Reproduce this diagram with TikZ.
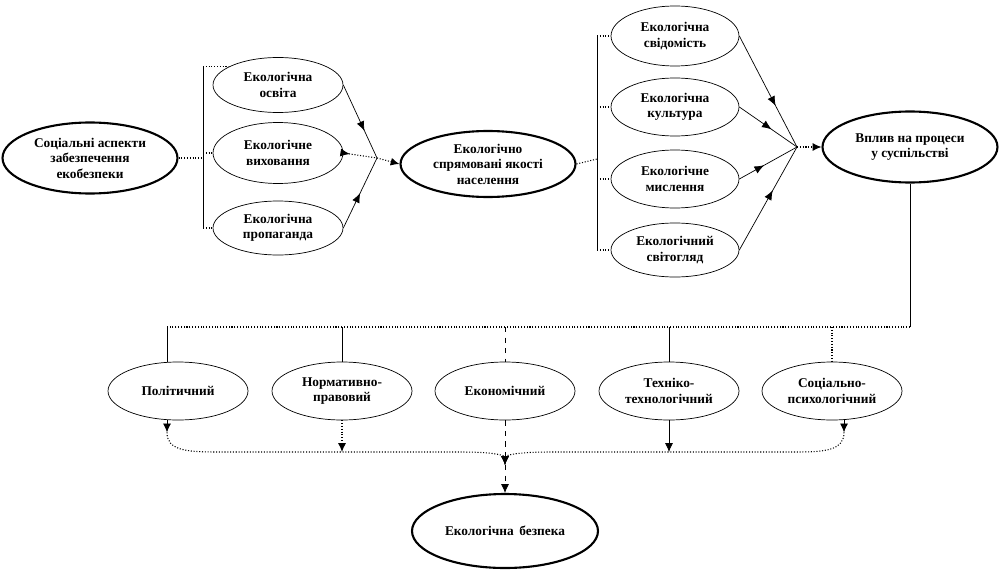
\documentclass[tikz,border=0pt]{standalone}
\usepackage{fontspec}
\setmainfont{Liberation Serif}
\usetikzlibrary{shapes.geometric,arrows.meta,calc,decorations.markings}

\begin{document}
\begin{tikzpicture}[x=0.02cm, y=-0.02cm,
    oval/.style={ellipse, draw, line width=0.4pt, inner sep=0pt, align=center, font=\bfseries\fontsize{7.6}{8.8}\selectfont},
    big/.style={oval, line width=1.2pt, minimum width=3.5cm, minimum height=1.42cm},
    small/.style={oval, minimum width=2.6cm, minimum height=#1},
    low/.style={oval, minimum width=2.8cm, minimum height=1.16cm},
    dl/.style={densely dotted, line width=0.6pt},
    tip/.style={-{Latex[length=5pt,width=4.5pt]}},
    midarr/.style={postaction={decorate}, decoration={markings, mark=at position #1 with {\arrow{Latex[length=5.5pt,width=4.5pt]}}}},
]
\useasboundingbox (0,0) rectangle (1000,571);

\node[big] (aspekty) at (90,158) {Соціальні аспекти\\забезпечення\\екобезпеки};
\node[small=1.1cm] (osvita) at (278,85) {Екологічна\\освіта};
\node[small=1.22cm] (vykh) at (278,153) {Екологічне\\виховання};
\node[small=1.08cm] (prop) at (278,228) {Екологічна\\пропаганда};
\node[big, minimum height=1.32cm] (yakosti) at (488,164) {Екологічно\\спрямовані якості\\населення};
\node[small=1.2cm, minimum width=2.56cm] (svid) at (675,36) {Екологічна\\свідомість};
\node[small=1.16cm, minimum width=2.56cm] (kult) at (675,107) {Екологічна\\культура};
\node[small=1.16cm, minimum width=2.56cm] (mysl) at (675,179) {Екологічне\\мислення};
\node[small=1.08cm, minimum width=2.56cm] (svitogl) at (675,250) {Екологічний\\світогляд};
\node[big] (vplyv) at (910,147) {Вплив на процеси\\у суспільстві};
\node[low] (polit) at (178,391) {Політичний};
\node[low] (norm) at (342,391) {Нормативно-\\правовий};
\node[low] (ekon) at (505,391) {Економічний};
\node[low] (tekh) at (669,391) {Техніко-\\технологічний};
\node[low] (sots) at (832,391) {Соціально-\\психологічний};
\node[big, minimum width=3.72cm, minimum height=1.48cm] (bezp) at (505,531) {Екологічна\, безпека};

\coordinate (lb) at (203,158);
\coordinate (lj) at (377,158);
\coordinate (rb) at (597,159);
\coordinate (rj) at (797,147);
\coordinate (bus) at (0,327);
\coordinate (rail) at (0,452);
\coordinate (bj) at (505,465);
\coordinate (pdrop) at ($(polit.north)+(-11,0)$);
\coordinate (pdown) at ($(polit.south)+(-11,0)$);
\coordinate (sdown) at ($(sots.south)+(12,0)$);

\draw[dl] (aspekty.east) -- (lb);
\draw (lb |- osvita.160) -- (lb |- prop.west);
\draw[dl] (lb |- osvita.160) -- (osvita.160);
\draw[dl] (lb |- vykh.west) -- (vykh.west);
\draw[dl] (lb |- prop.west) -- (prop.west);
\draw[midarr=0.63] (osvita.east) -- (lj);
\draw[dl, midarr=0.2] (vykh.east) -- (lj);
\draw[midarr=0.5] (prop.east) -- (lj);
\draw[dl, tip] (lj) -- (yakosti.west);

\draw[dl] (yakosti.east) -- (rb);
\draw (rb |- svid.west) -- (rb |- svitogl.west);
\draw[dl] (rb |- svid.west) -- (svid.west);
\draw[dl] (rb |- kult.west) -- (kult.west);
\draw[dl] (rb |- mysl.west) -- (mysl.west);
\draw[dl] (rb |- svitogl.west) -- (svitogl.west);
\draw[midarr=0.63] (svid.east) -- (rj);
\draw[midarr=0.56] (kult.east) -- (rj);
\draw[midarr=0.43] (mysl.east) -- (rj);
\draw[midarr=0.58] (svitogl.east) -- (rj);
\draw[dl, tip] (rj) -- (vplyv.west);

\draw (vplyv.south) -- (vplyv.south |- bus);
\draw[dl] (vplyv.south |- bus) -- (pdrop |- bus);
\draw (pdrop |- bus) -- (pdrop);
\draw (norm.north |- bus) -- (norm.north);
\draw[dashed] (ekon.north |- bus) -- (ekon.north);
\draw (tekh.north |- bus) -- (tekh.north);
\draw[dl] (sots.north |- bus) -- (sots.north);

\draw[tip] (pdown) -- ++(0,12);
\draw[dl, tip] ($(pdown)+(0,12)$) .. controls (167,450) and (185,452) .. (217,452) -- (462,452) .. controls (497,452) and (505,456) .. (bj);
\draw[dl, tip] (norm.south) -- (norm.south |- rail);
\draw[tip] (tekh.south) -- (tekh.south |- rail);
\draw[tip] (sdown) -- ++(0,12);
\draw[dl, tip] ($(sdown)+(0,12)$) .. controls (844,450) and (826,452) .. (797,452) -- (550,452) .. controls (513,452) and (505,456) .. (bj);
\draw[dashed, tip] (ekon.south) -- (bj);
\draw[dashed, tip] (bj) -- (bezp.north);

\end{tikzpicture}
\end{document}
